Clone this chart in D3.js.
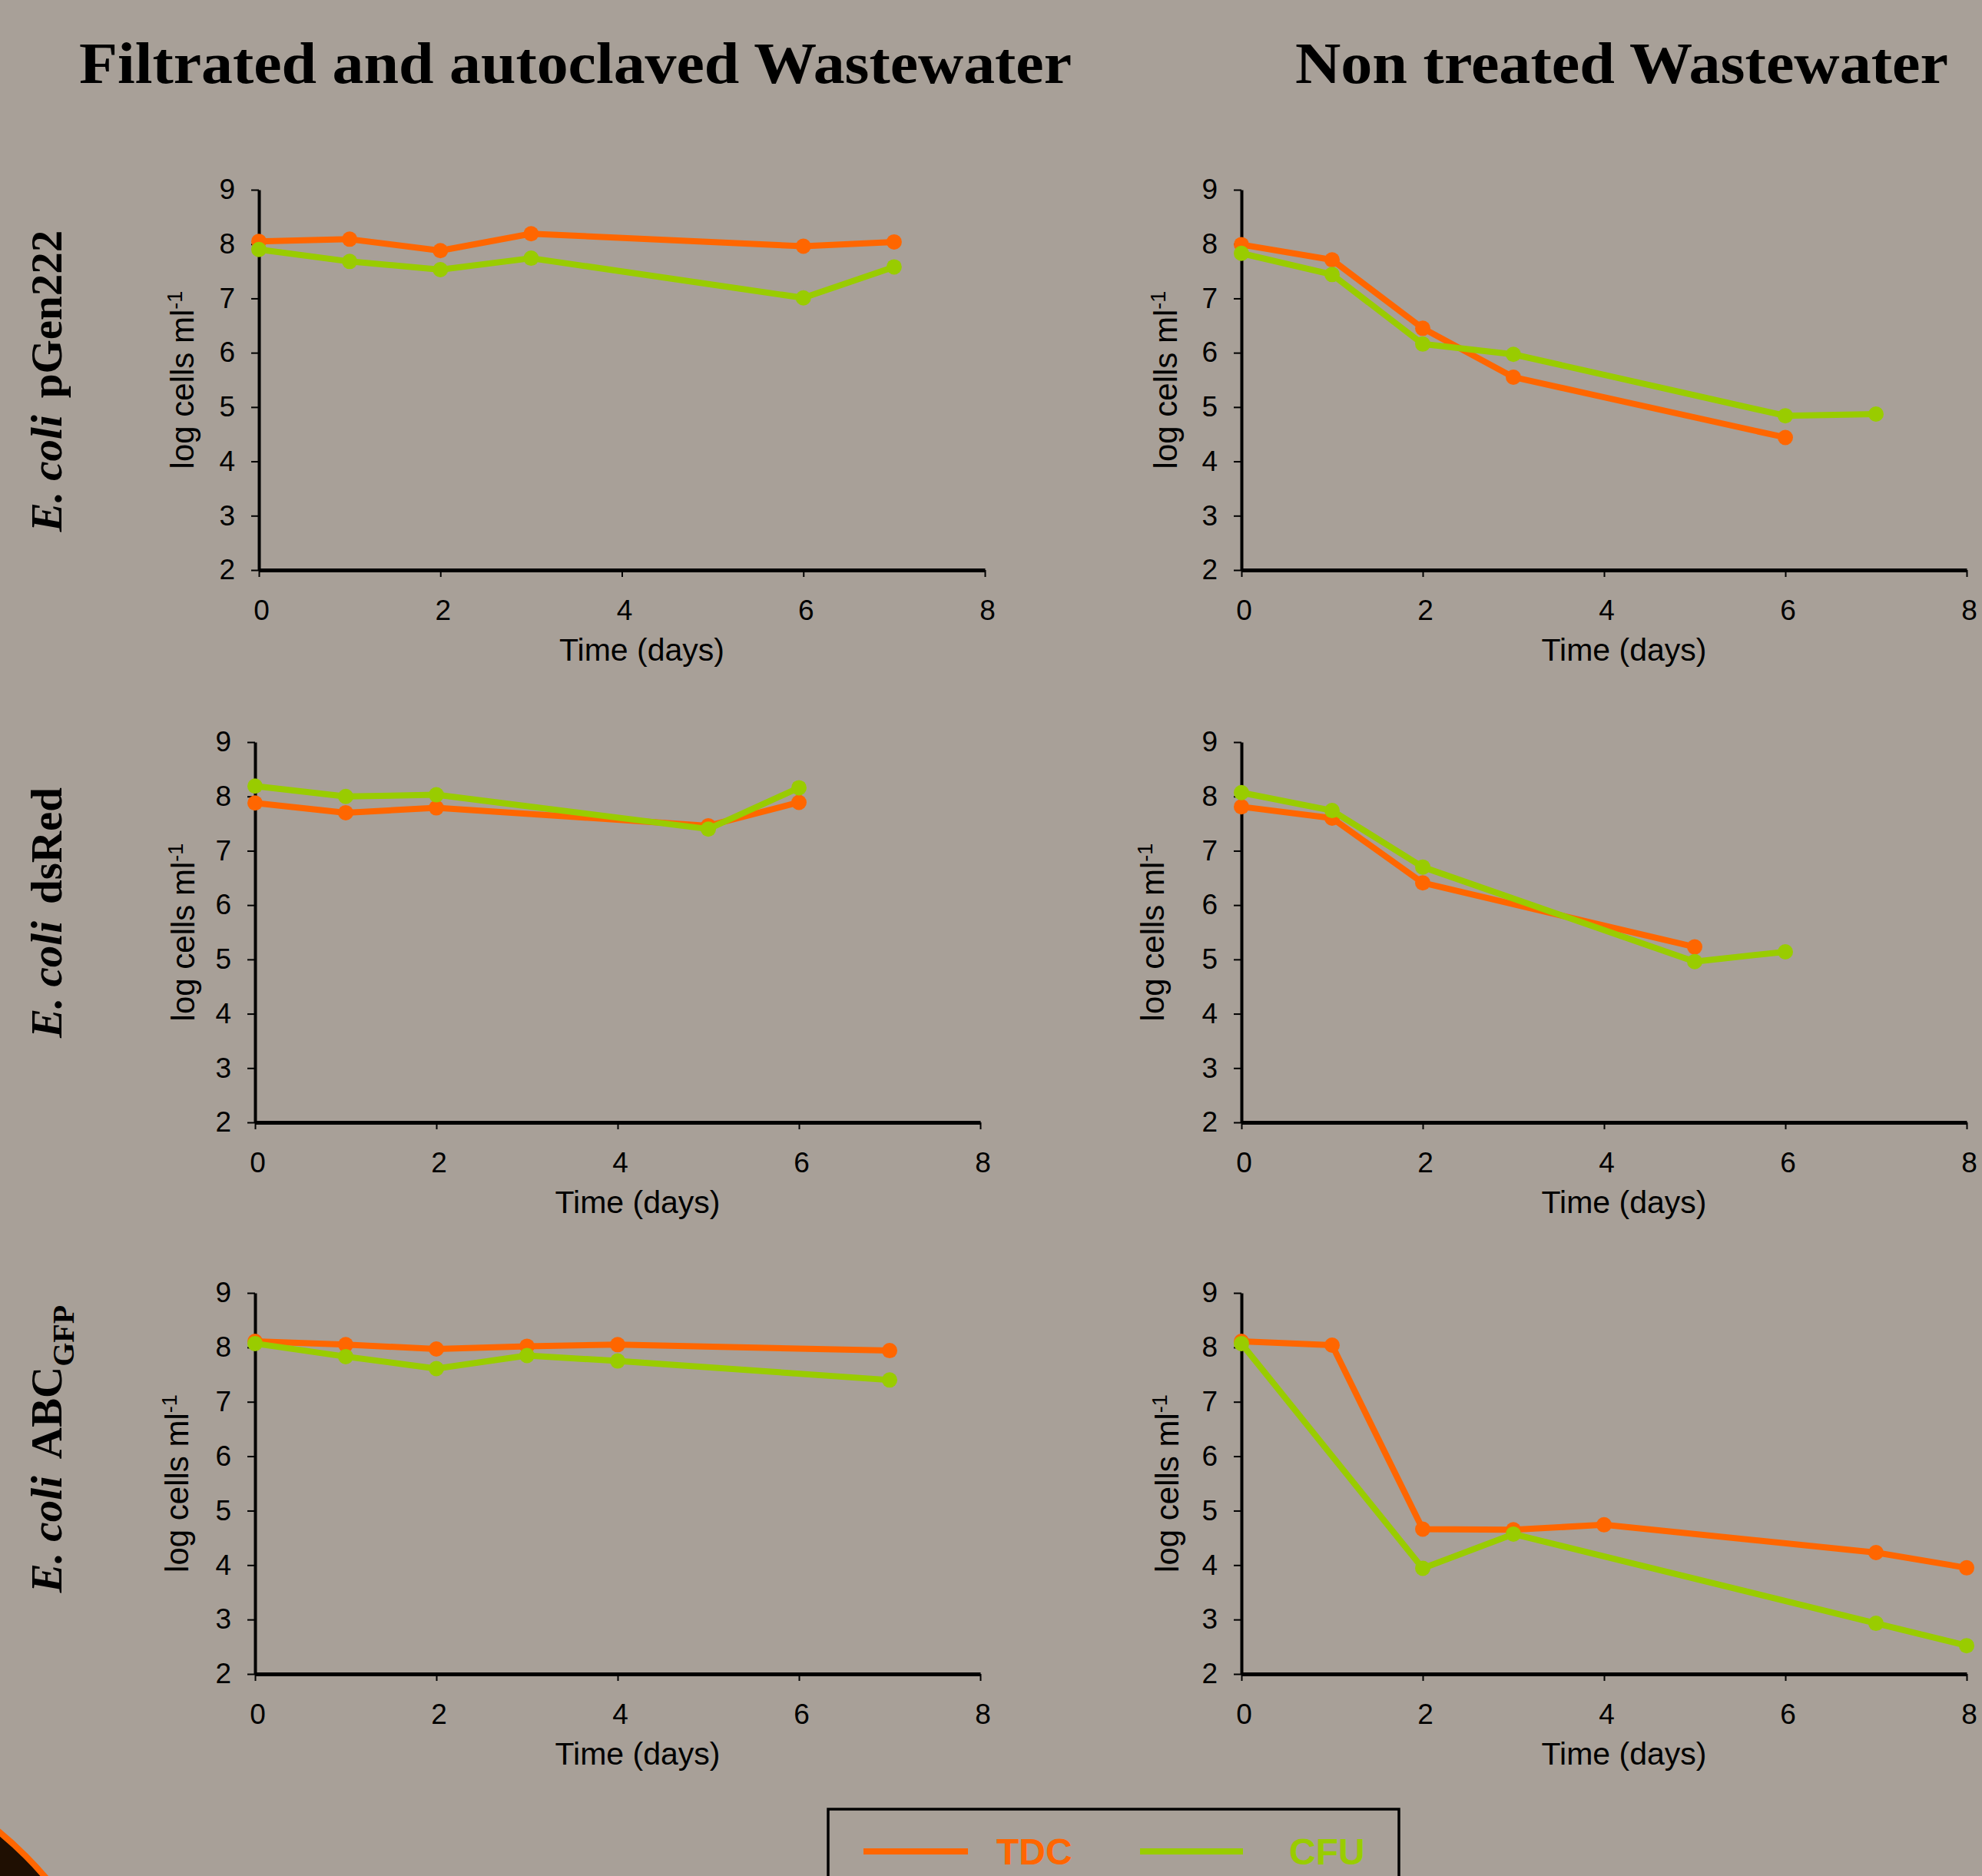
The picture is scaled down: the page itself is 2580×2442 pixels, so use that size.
<!DOCTYPE html>
<html>
<head>
<meta charset="utf-8">
<script src="https://cdn.jsdelivr.net/npm/d3@7"></script>
<style>
  html, body { margin: 0; padding: 0; background: #a8a098; }
  svg { display: block; }
</style>
</head>
<body>
<div id="chart"></div>
<script>
// axis ticks and labels
const xTicks = [0, 2, 4, 6, 8];
const yTicks = [2, 3, 4, 5, 6, 7, 8, 9];
const columnTitles = ['Filtrated and autoclaved Wastewater', 'Non treated Wastewater'];
const strainNames = ['pGen222', 'dsRed', 'ABC'];
const strainSubscripts = ['', '', 'GFP'];
const seriesNames = ['TDC', 'CFU'];

// E. coli pGen222
const pgenFiltTdcDays = [0, 1, 2, 3, 6, 7];
const pgenFiltTdc = [8.05, 8.09, 7.88, 8.19, 7.96, 8.04];
const pgenFiltCfuDays = [0, 1, 2, 3, 6, 7];
const pgenFiltCfu = [7.90, 7.68, 7.53, 7.74, 7.01, 7.58];
const pgenRawTdcDays = [0, 1, 2, 3, 6];
const pgenRawTdc = [7.99, 7.71, 6.45, 5.55, 4.44];
const pgenRawCfuDays = [0, 1, 2, 3, 6, 7];
const pgenRawCfu = [7.83, 7.44, 6.16, 5.97, 4.84, 4.87];

// E. coli dsRed
const dsredFiltTdcDays = [0, 1, 2, 5, 6];
const dsredFiltTdc = [7.88, 7.70, 7.79, 7.46, 7.89];
const dsredFiltCfuDays = [0, 1, 2, 5, 6];
const dsredFiltCfu = [8.19, 8.00, 8.03, 7.40, 8.16];
const dsredRawTdcDays = [0, 1, 2, 5];
const dsredRawTdc = [7.81, 7.60, 6.41, 5.23];
const dsredRawCfuDays = [0, 1, 2, 5, 6];
const dsredRawCfu = [8.07, 7.74, 6.70, 4.96, 5.14];

// E. coli ABC GFP
const abcFiltTdcDays = [0, 1, 2, 3, 4, 7];
const abcFiltTdc = [8.11, 8.05, 7.97, 8.02, 8.05, 7.94];
const abcFiltCfuDays = [0, 1, 2, 3, 4, 7];
const abcFiltCfu = [8.07, 7.83, 7.61, 7.85, 7.75, 7.40];
const abcRawTdcDays = [0, 1, 2, 3, 4, 7, 8];
const abcRawTdc = [8.11, 8.04, 4.66, 4.65, 4.74, 4.23, 3.95];
const abcRawCfuDays = [0, 2, 3, 7, 8];
const abcRawCfu = [8.07, 3.94, 4.57, 2.93, 2.52];

const panelData = [
    [[[pgenFiltTdcDays, pgenFiltTdc], [pgenFiltCfuDays, pgenFiltCfu]],
     [[pgenRawTdcDays, pgenRawTdc], [pgenRawCfuDays, pgenRawCfu]]],
    [[[dsredFiltTdcDays, dsredFiltTdc], [dsredFiltCfuDays, dsredFiltCfu]],
     [[dsredRawTdcDays, dsredRawTdc], [dsredRawCfuDays, dsredRawCfu]]],
    [[[abcFiltTdcDays, abcFiltTdc], [abcFiltCfuDays, abcFiltCfu]],
     [[abcRawTdcDays, abcRawTdc], [abcRawCfuDays, abcRawCfu]]]
];

// layout
const W = 2580, H = 2442;
const colors = { TDC: '#ff6600', CFU: '#99cc00' };
const rowY = [[247, 742], [966, 1461], [1683, 2179]];
const colX = [
    [[337, 1282], [1616, 2560]],
    [[332, 1276], [1616, 2560]],
    [[332, 1276], [1616, 2560]]
];
const yTitleBase = [[252, 1532], [253, 1515], [245, 1534]];
const rowLabelY = [496, 1188, 1886];
const sansFont = '"Liberation Sans", Arial, sans-serif';
const serifFont = '"Liberation Serif", "Times New Roman", serif';

const svg = d3.select('#chart').append('svg')
    .attr('width', W)
    .attr('height', H);

svg.append('rect')
    .attr('width', W)
    .attr('height', H)
    .attr('fill', '#a8a098');

// column titles
const titleSpans = [[103, 1292], [1686, 850]];
columnTitles.forEach((t, i) => {
    svg.append('text')
        .attr('x', titleSpans[i][0])
        .attr('y', 108)
        .attr('textLength', titleSpans[i][1])
        .attr('lengthAdjust', 'spacingAndGlyphs')
        .style('font-family', serifFont)
        .style('font-weight', 'bold')
        .style('font-size', '76px')
        .style('fill', '#000')
        .text(t);
});

// row labels
strainNames.forEach((name, i) => {
    const t = svg.append('text')
        .attr('transform', `translate(80,${rowLabelY[i]}) rotate(-90)`)
        .attr('text-anchor', 'middle')
        .style('font-family', serifFont)
        .style('font-weight', 'bold')
        .style('font-size', '57px')
        .style('fill', '#000');
    t.append('tspan').style('font-style', 'italic').text('E. coli');
    t.append('tspan').attr('dx', 22).text(name);
    if (strainSubscripts[i]) {
        t.append('tspan')
            .attr('dy', 16)
            .style('font-size', '40px')
            .text(strainSubscripts[i]);
    }
});

function drawPanel(row, col) {
    const [x0, x1] = colX[row][col];
    const [yTop, yBot] = rowY[row];
    const x = d3.scaleLinear().domain([0, 8]).range([x0, x1]);
    const y = d3.scaleLinear().domain([2, 9]).range([yBot, yTop]);
    const g = svg.append('g');

    const yAxis = g.append('g')
        .attr('transform', `translate(${x0},0)`)
        .call(d3.axisLeft(y).tickValues(yTicks).tickFormat(d3.format('d'))
            .tickSize(10).tickSizeOuter(0).tickPadding(21));
    yAxis.select('.domain').attr('stroke', '#000').attr('stroke-width', 4);
    yAxis.selectAll('.tick line').attr('stroke', '#000').attr('stroke-width', 2);
    yAxis.selectAll('text')
        .style('font-family', sansFont)
        .style('font-size', '37px')
        .style('fill', '#000');

    const xAxis = g.append('g')
        .attr('transform', `translate(0,${yBot})`)
        .call(d3.axisBottom(x).tickValues(xTicks).tickFormat(d3.format('d'))
            .tickSize(9).tickSizeOuter(0).tickPadding(30));
    xAxis.select('.domain').attr('stroke', '#000').attr('stroke-width', 5);
    xAxis.selectAll('.tick line').attr('stroke', '#000').attr('stroke-width', 2);
    xAxis.selectAll('text')
        .attr('dx', 3)
        .style('font-family', sansFont)
        .style('font-size', '37px')
        .style('fill', '#000');

    // axis titles
    const yt = g.append('text')
        .attr('transform', `translate(${yTitleBase[row][col]},${(yTop + yBot) / 2}) rotate(-90)`)
        .attr('text-anchor', 'middle')
        .style('font-family', sansFont)
        .style('font-size', '42px')
        .style('fill', '#000');
    yt.append('tspan').text('log cells ml');
    yt.append('tspan').attr('dy', -15).style('font-size', '27px').text('-1');

    g.append('text')
        .attr('x', (x0 + x1) / 2 + 26)
        .attr('y', yBot + 118)
        .attr('text-anchor', 'middle')
        .style('font-family', sansFont)
        .style('font-size', '41px')
        .style('fill', '#000')
        .text('Time (days)');

    const line = d3.line()
        .x(d => x(d[0]))
        .y(d => y(d[1]));

    panelData[row][col].forEach((s, k) => {
        const pts = s[0].map((d, j) => [d, s[1][j]]);
        const c = colors[seriesNames[k]];
        g.append('path')
            .datum(pts)
            .attr('d', line)
            .attr('fill', 'none')
            .attr('stroke', c)
            .attr('stroke-width', 8)
            .attr('stroke-linejoin', 'round');
        g.selectAll(null)
            .data(pts)
            .enter()
            .append('circle')
            .attr('cx', d => x(d[0]))
            .attr('cy', d => y(d[1]))
            .attr('r', 10)
            .attr('fill', c);
    });
}

for (let r = 0; r < 3; r++) {
    for (let c = 0; c < 2; c++) drawPanel(r, c);
}

// legend
const legend = svg.append('g');
legend.append('rect')
    .attr('x', 1078)
    .attr('y', 2355)
    .attr('width', 743)
    .attr('height', 160)
    .attr('fill', 'none')
    .attr('stroke', '#000')
    .attr('stroke-width', 3.5);
const legendItems = [[1124, 1260, 1297], [1484, 1618, 1678]];
seriesNames.forEach((name, i) => {
    const [l0, l1, tx] = legendItems[i];
    legend.append('line')
        .attr('x1', l0).attr('x2', l1)
        .attr('y1', 2410).attr('y2', 2410)
        .attr('stroke', colors[name])
        .attr('stroke-width', 8);
    legend.append('text')
        .attr('x', tx)
        .attr('y', 2427)
        .style('font-family', sansFont)
        .style('font-weight', 'bold')
        .style('font-size', '48px')
        .style('fill', colors[name])
        .text(name);
});

// corner decoration
svg.append('circle')
    .attr('cx', -300)
    .attr('cy', 2750)
    .attr('r', 472)
    .attr('fill', '#1f0f02')
    .attr('stroke', '#ff6600')
    .attr('stroke-width', 8);
</script>
</body>
</html>
